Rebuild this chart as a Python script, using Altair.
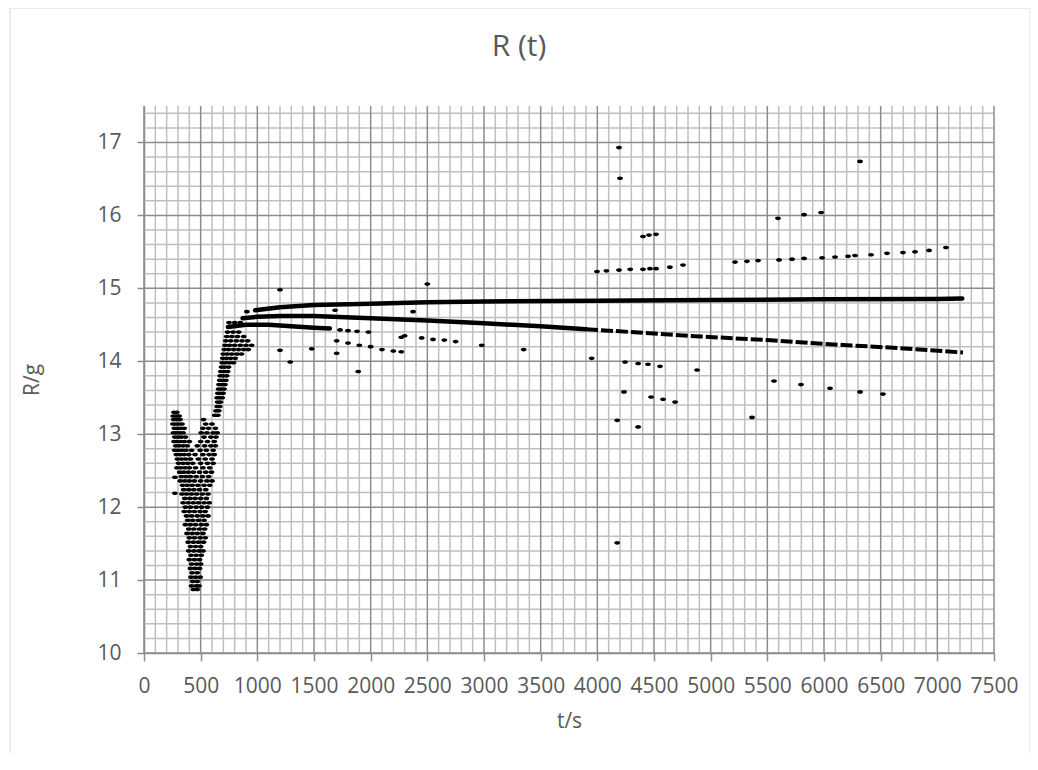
import altair as alt
import pandas as pd

# ---------------- data ----------------
# dense solid traces (many overlapping samples)
upper_t = [980, 1200, 1500, 2000, 2500, 3000, 4000, 5000, 6000, 7000, 7220]
upper_R = [14.70, 14.74, 14.77, 14.79, 14.81, 14.82, 14.83, 14.84, 14.85, 14.855, 14.86]

mid_t = [870, 1000, 1200, 1500, 2000, 2500, 3000, 3500, 3900]
mid_R = [14.59, 14.61, 14.62, 14.62, 14.59, 14.56, 14.52, 14.48, 14.44]

mid2_t = [3900, 4500, 4906, 5500, 5788, 6200, 6670, 7226]
mid2_R = [14.44, 14.38, 14.34, 14.29, 14.26, 14.22, 14.18, 14.12]

third_t = [740, 900, 1100, 1300, 1500, 1640]
third_R = [14.47, 14.50, 14.50, 14.48, 14.46, 14.45]

# sparse dashed traces
dash1_t = [3997, 4080, 4191, 4290, 4403, 4465, 4518, 4640, 4756]
dash1_R = [15.23, 15.24, 15.25, 15.26, 15.26, 15.27, 15.27, 15.29, 15.32]

dash2_t = [5215, 5320, 5418, 5603, 5718, 5824, 5983, 6097, 6212, 6274, 6415, 6556, 6697, 6803, 6927, 7076]
dash2_R = [15.36, 15.37, 15.38, 15.39, 15.40, 15.41, 15.42, 15.43, 15.44, 15.45, 15.46, 15.48, 15.49, 15.50, 15.52, 15.56]

# isolated samples
iso_t = [908, 1200, 1686, 2374, 2500, 1200, 1290, 1480, 1700, 1890, 2270, 2980, 3350, 3950,
         4191, 4200, 4403, 4456, 4518, 5594, 5824, 5974, 6318,
         4175, 4175, 4235, 4245, 4360, 4447, 4553, 4880, 4474, 4580, 4686, 4360,
         5559, 5797, 6053, 6318, 6520, 5365,
         1730, 1800, 1880, 1980, 1700, 1800, 1900, 2000, 2100, 2200, 2270,
         2300, 2450, 2550, 2650, 2750, 273, 273]
iso_R = [14.68, 14.98, 14.70, 14.68, 15.06, 14.15, 13.99, 14.17, 14.11, 13.86, 14.33, 14.22, 14.16, 14.04,
         16.93, 16.51, 15.71, 15.73, 15.74, 15.96, 16.01, 16.04, 16.74,
         13.19, 11.51, 13.58, 13.99, 13.97, 13.96, 13.93, 13.88, 13.51, 13.48, 13.44, 13.10,
         13.73, 13.68, 13.63, 13.58, 13.55, 13.23,
         14.43, 14.42, 14.41, 14.40, 14.28, 14.25, 14.22, 14.20, 14.16, 14.14, 14.13,
         14.35, 14.32, 14.30, 14.29, 14.27, 12.41, 12.19]

# dense start-up cluster, row by row (R level, t samples on that row)
cluster_levels = [13.30, 13.25, 13.20, 13.14, 13.08, 13.02, 12.96, 12.90, 12.84, 12.78,
                  12.72, 12.66, 12.60, 12.54, 12.48, 12.42, 12.36, 12.30, 12.24, 12.18,
                  12.12, 12.06, 12.00, 11.94, 11.88, 11.82, 11.76, 11.70, 11.64, 11.58,
                  11.52, 11.46, 11.40, 11.34, 11.28, 11.22, 11.16, 11.10, 11.04, 10.98,
                  10.92, 10.87,
                  13.26, 13.32, 13.38, 13.44,
                  13.50, 13.56, 13.62, 13.68, 13.74, 13.80, 13.86, 13.92, 13.98, 14.04,
                  14.10, 14.16, 14.22, 14.28, 14.34, 14.40, 14.53]
cluster_rows = [
    [265, 290], [258, 285, 310], [262, 290, 318, 525], [255, 280, 305, 335, 545, 600],
    [268, 295, 325, 355, 520, 570, 630], [260, 285, 315, 345, 505, 555, 610, 645],
    [272, 300, 330, 365, 530, 590, 635], [265, 290, 320, 355, 400, 500, 560, 620],
    [280, 310, 345, 380, 470, 535, 590, 630], [270, 300, 335, 370, 420, 495, 550, 610],
    [285, 320, 355, 395, 450, 520, 575, 620], [295, 330, 368, 410, 480, 540, 600],
    [305, 345, 385, 430, 500, 560, 610], [290, 325, 362, 400, 455, 520, 580],
    [315, 350, 390, 435, 490, 545, 595], [330, 370, 410, 460, 515, 570],
    [320, 360, 400, 445, 500, 555, 600], [340, 380, 425, 475, 530, 580],
    [350, 395, 440, 490, 545], [335, 375, 420, 465, 515, 565],
    [360, 405, 450, 500, 550], [345, 390, 435, 480, 530, 575],
    [365, 410, 460, 510, 560], [355, 400, 445, 495, 540],
    [375, 420, 470, 520, 565], [385, 430, 480, 530],
    [365, 410, 455, 505, 550], [395, 440, 490, 535],
    [380, 425, 470, 520], [400, 445, 495, 540],
    [390, 435, 480, 525], [410, 455, 500],
    [395, 440, 485, 520], [415, 460, 505],
    [400, 445, 490], [420, 465, 500],
    [410, 450, 490], [425, 470],
    [415, 455, 495], [430, 470],
    [420, 460, 485], [435, 470],
    [625, 652], [635, 660], [645, 668], [650, 675],
    [645, 668, 690], [652, 675, 698], [658, 682, 706], [662, 688, 714], [668, 694, 722],
    [672, 700, 730], [678, 706, 738], [684, 712, 746], [690, 720, 755, 790],
    [695, 728, 765, 805], [700, 735, 775, 820, 860], [708, 745, 790, 835, 880, 920],
    [715, 755, 800, 850, 900, 950], [722, 765, 815, 865, 915], [730, 775, 825, 880],
    [738, 785, 835], [750, 800, 850],
]

# texts
chart_title = ["R (t)"]

# axis / grid positions
x_major = list(range(0, 7501, 500))
x_minor = [v for v in range(0, 7501, 100) if v % 500]
y_major = [10, 11, 12, 13, 14, 15, 16, 17]
y_minor = [round(10 + 0.2 * i, 1) for i in range(38) if i % 5]

# ---------------- build tables ----------------
pts_t, pts_R = [], []
for lvl, row in zip(cluster_levels, cluster_rows):
    for t in row:
        pts_t.append(t)
        pts_R.append(lvl)
pts_t += iso_t + dash1_t + dash2_t
pts_R += iso_R + dash1_R + dash2_R
points = pd.DataFrame({"t": pts_t, "R": pts_R})

lines = pd.concat([
    pd.DataFrame({"t": upper_t, "R": upper_R, "s": "upper"}),
    pd.DataFrame({"t": mid_t, "R": mid_R, "s": "mid"}),
    pd.DataFrame({"t": third_t, "R": third_R, "s": "third"}),
])
dashed = pd.DataFrame({"t": mid2_t, "R": mid2_R})

X0, X1, Y0, Y1 = 0, 7500, 10, 17.5
xs = alt.Scale(domain=[X0, X1], nice=False, zero=False)
ys = alt.Scale(domain=[Y0, Y1], nice=False, zero=False)

GRID_MINOR = "#bfbfbf"
GRID_MAJOR = "#8c8c8c"
FONT = "Open Sans"
TXT = "#595959"

frame = alt.Chart(pd.DataFrame({"a": [0]})).mark_rect(fill=None, stroke="#d9d9d9", strokeWidth=1).encode(
    x=alt.value(-134), x2=alt.value(886), y=alt.value(-98), y2=alt.value(656))

title_txt = alt.Chart(pd.DataFrame({"label": chart_title})).mark_text(
    font=FONT, fontSize=30, color=TXT, align="center", baseline="middle").encode(
    text="label:N", x=alt.value(375), y=alt.value(-59))

vminor = alt.Chart(pd.DataFrame({"t": x_minor})).mark_rule(color=GRID_MINOR, strokeWidth=1.5).encode(
    x=alt.X("t:Q", scale=xs), y=alt.value(0), y2=alt.value(547))
hminor = alt.Chart(pd.DataFrame({"R": y_minor})).mark_rule(color=GRID_MINOR, strokeWidth=1.5).encode(
    y=alt.Y("R:Q", scale=ys), x=alt.value(0), x2=alt.value(850))
vmajor = alt.Chart(pd.DataFrame({"t": x_major})).mark_rule(color=GRID_MAJOR, strokeWidth=1.5).encode(
    x=alt.X("t:Q", scale=xs), y=alt.value(0), y2=alt.value(547))
hmajor = alt.Chart(pd.DataFrame({"R": y_major})).mark_rule(color=GRID_MAJOR, strokeWidth=1.5).encode(
    y=alt.Y("R:Q", scale=ys), x=alt.value(0), x2=alt.value(850))

ELLIPSE = "M-1,0A1,0.62,0,1,1,1,0A1,0.62,0,1,1,-1,0Z"

axis_common = dict(grid=False, domainColor=GRID_MAJOR, tickColor=GRID_MAJOR, domainWidth=1.5,
                   tickWidth=1.5, labelFlush=False, format="d",
                   labelFont=FONT, titleFont=FONT, labelFontSize=21, titleFontSize=21,
                   labelColor=TXT, titleColor=TXT, titleFontWeight="normal")

pts = alt.Chart(points).mark_point(shape=ELLIPSE, filled=True, color="black", opacity=1, size=34).encode(
    x=alt.X("t:Q", scale=xs,
            axis=alt.Axis(values=x_major, title="t/s", tickSize=8, labelPadding=14,
                          titlePadding=14, **axis_common)),
    y=alt.Y("R:Q", scale=ys,
            axis=alt.Axis(values=y_major, title="R/g", tickSize=7, labelPadding=16,
                          titlePadding=54, **axis_common)),
)

ln = alt.Chart(lines).mark_line(color="black", strokeWidth=4.5, strokeCap="round").encode(
    x=alt.X("t:Q", scale=xs), y=alt.Y("R:Q", scale=ys), detail="s:N")
dl = alt.Chart(dashed).mark_line(color="black", strokeWidth=4, strokeDash=[12, 3]).encode(
    x=alt.X("t:Q", scale=xs), y=alt.Y("R:Q", scale=ys))

chart = alt.layer(frame, title_txt, vminor, hminor, vmajor, hmajor, ln, dl, pts).properties(
    width=850, height=547,
    autosize=alt.AutoSizeParams(type="none"),
    padding={"left": 136, "top": 98, "right": 36, "bottom": 100},
    background="white",
).configure_view(stroke=None)

chart.save("out.html", embed_options={"renderer": "svg", "actions": False})
